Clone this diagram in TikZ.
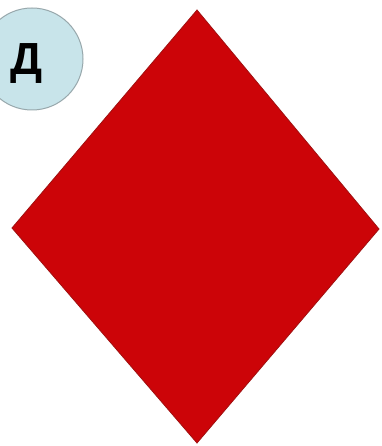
\documentclass[tikz,border=0pt]{standalone}
\usepackage{fontspec}
\newfontfamily\cyrfont{Liberation Sans}
\definecolor{dred}{HTML}{CC0408}
\definecolor{dredge}{HTML}{A01010}
\definecolor{cblue}{HTML}{C8E4EA}
\definecolor{cedge}{HTML}{98A8AC}
\begin{document}
\begin{tikzpicture}[x=1pt,y=-1pt,
  diamondshape/.style={fill=dred,draw=dredge,line width=0.8pt,line join=miter},
  badge/.style={circle,fill=cblue,draw=cedge,line width=1pt,minimum size=102pt,inner sep=0pt},
  lettr/.style={font=\cyrfont\bfseries\fontsize{45}{45}\selectfont,inner sep=0pt,anchor=base}]
\useasboundingbox (0,0) rectangle (381,446);
\clip (0,0) rectangle (381,446);
\coordinate (t) at (197,10);
\coordinate (r) at (379,229);
\coordinate (b) at (197,443);
\coordinate (l) at (12,228);
\fill[white] (0,0) rectangle (381,446);
\draw[diamondshape] (t) -- (r) -- (b) -- (l) -- cycle;
\node[badge] (d) at (32,59) {};
\node[lettr] (dl) at (27,75) {Д};
\end{tikzpicture}
\end{document}
